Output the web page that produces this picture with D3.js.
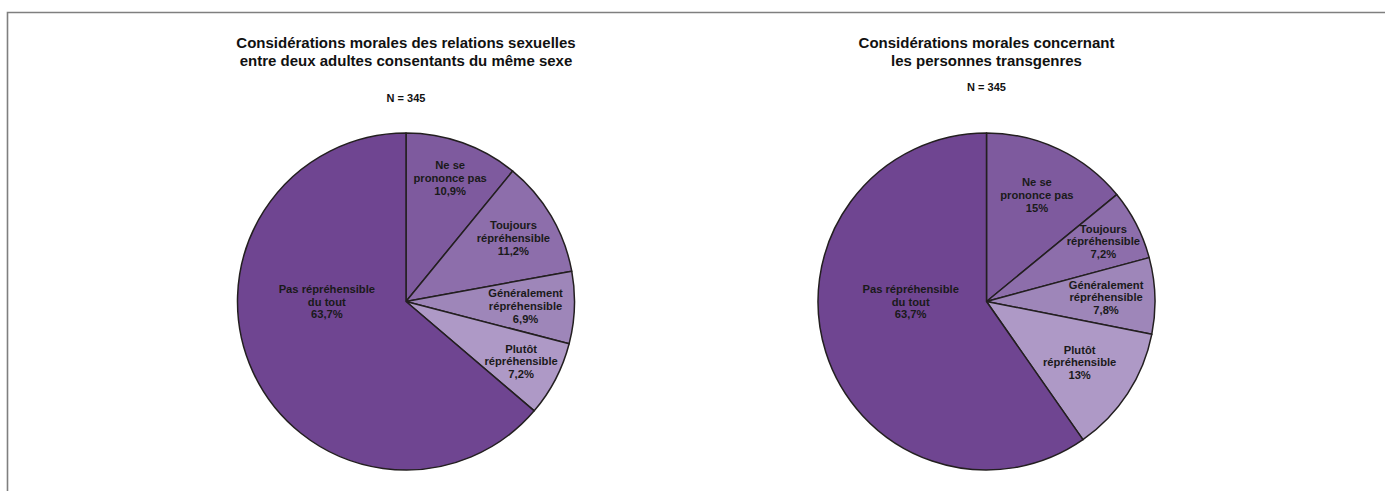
<!DOCTYPE html>
<html lang="fr">
<head>
<meta charset="utf-8">
<script src="https://cdn.jsdelivr.net/npm/d3@7"></script>
<style>
  html, body { margin: 0; padding: 0; background: #fff; }
  svg { display: block; font-family: "Liberation Sans", Arial, sans-serif; }
</style>
</head>
<body>
<svg id="chart" width="1385" height="491"></svg>
<script>
// Response categories, in clockwise order from 12 o'clock
const categories = [
  ["Ne se", "prononce pas"],
  ["Toujours", "répréhensible"],
  ["Généralement", "répréhensible"],
  ["Plutôt", "répréhensible"],
  ["Pas répréhensible", "du tout"]
];

// Percentages for each survey question
const valuesSameSex = [10.9, 11.2, 6.9, 7.2, 63.7];
const valuesTrans   = [15, 7.2, 7.8, 13, 63.7];

// Chart titles and sample sizes
const titleSameSex = ["Considérations morales des relations sexuelles", "entre deux adultes consentants du même sexe"];
const titleTrans   = ["Considérations morales concernant", "les personnes transgenres"];
const sampleSizes  = ["N = 345", "N = 345"];

// Slice fills, from lighter tints to the darkest (largest share)
const sliceColors = ["#7e5a9e", "#8d6eab", "#9e86b9", "#ae99c6", "#6f4591"];

const fmt = v => String(v).replace(".", ",") + "%";

const svg = d3.select("#chart");

// Frame around the figure (top and left rules)
svg.append("path")
  .attr("d", "M7.5,491 V12.5 H1385")
  .attr("fill", "none")
  .attr("stroke", "#7f7f7f")
  .attr("stroke-width", 1.6);

// Layout of each pie: centre, radius, title placement and label radii
const panels = [
  {
    values: valuesSameSex, title: titleSameSex, n: sampleSizes[0],
    cx: 406, cy: 301.5, r: 168.5, titleY: [47.5, 65.5], nY: 102,
    labelR: [0.78, 0.74, 0.71, 0.77, 0.47]
  },
  {
    values: valuesTrans, title: titleTrans, n: sampleSizes[1],
    cx: 986.5, cy: 301.5, r: 168.5, titleY: [47.5, 65.5], nY: 91,
    labelR: [0.70, 0.78, 0.71, 0.66, 0.45]
  }
];

const pie = d3.pie().sort(null).value(d => d);

panels.forEach(p => {
  const g = svg.append("g");

  // Title lines and sample size
  g.selectAll("text.title")
    .data(p.title)
    .join("text")
    .attr("class", "title")
    .attr("x", p.cx)
    .attr("y", (d, i) => p.titleY[i])
    .attr("text-anchor", "middle")
    .attr("font-size", 15)
    .attr("font-weight", "bold")
    .attr("fill", "#111")
    .text(d => d);

  g.append("text")
    .attr("x", p.cx)
    .attr("y", p.nY)
    .attr("text-anchor", "middle")
    .attr("font-size", 11)
    .attr("font-weight", "bold")
    .attr("fill", "#111")
    .text(p.n);

  const arcs = pie(p.values);
  const arc = d3.arc().innerRadius(0).outerRadius(p.r);

  const pg = g.append("g").attr("transform", `translate(${p.cx},${p.cy})`);

  pg.selectAll("path.slice")
    .data(arcs)
    .join("path")
    .attr("class", "slice")
    .attr("d", arc)
    .attr("fill", (d, i) => sliceColors[i])
    .attr("stroke", "#231f20")
    .attr("stroke-width", 1.5)
    .attr("stroke-linejoin", "round");

  // Labels: small slices along their bisector, the dominant slice to the left
  arcs.forEach((a, i) => {
    const isMain = i === arcs.length - 1;
    const ang = isMain ? -Math.PI / 2 : (a.startAngle + a.endAngle) / 2;
    const rr = p.r * p.labelR[i];
    const x = Math.sin(ang) * rr;
    const y = -Math.cos(ang) * rr;
    const lines = categories[i].concat([fmt(a.data)]);
    const lh = 12.8;
    const t = pg.append("text")
      .attr("text-anchor", "middle")
      .attr("font-size", 11.2)
      .attr("font-weight", "bold")
      .attr("fill", "#1a1a1a");
    lines.forEach((s, k) => {
      t.append("tspan")
        .attr("x", x)
        .attr("y", y + (k - (lines.length - 1) / 2) * lh + 4)
        .text(s);
    });
  });
});
</script>
</body>
</html>
